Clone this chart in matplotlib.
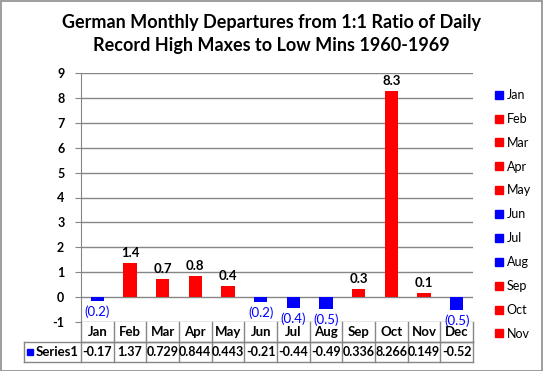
import matplotlib.pyplot as plt
from matplotlib.lines import Line2D
from matplotlib.patches import Rectangle

plt.rcParams['font.family'] = ['Lato', 'DejaVu Sans']

months = ['Jan', 'Feb', 'Mar', 'Apr', 'May', 'Jun', 'Jul', 'Aug', 'Sep', 'Oct', 'Nov', 'Dec']
values = [-0.17, 1.37, 0.729, 0.844, 0.443, -0.21, -0.44, -0.49, 0.336, 8.266, 0.149, -0.52]
yticks = list(range(-1, 10))
series_name = 'Series1'
title = 'German Monthly Departures from 1:1 Ratio of Daily\nRecord High Maxes to Low Mins 1960-1969'

BLUE = '#0000FF'
RED = '#FF0000'
GRID = '#868686'
colors = [BLUE if v < 0 else RED for v in values]

W, H = 543, 371
fig = plt.figure(figsize=(W / 100, H / 100), dpi=100)
fig.patch.set_facecolor('white')
fig.patches.append(Rectangle((0.5 / W, 0.5 / H), 1 - 1.5 / W, 1 - 1.5 / H, transform=fig.transFigure,
                             fill=False, edgecolor='#8c8c8c', linewidth=1.2))

# plot area in pixels
x0, x1, ytop, ybot = 81, 473, 73, 322
ax = fig.add_axes([x0 / W, (H - ybot) / H, (x1 - x0) / W, (ybot - ytop) / H])

x = list(range(len(months)))
ax.bar(x, values, width=0.4, color=colors, zorder=3)
ax.set_xlim(-0.5, len(months) - 0.5)
ax.set_ylim(-1, 9)
ax.set_yticks(yticks)
ax.set_yticklabels([str(t) for t in yticks], fontsize=9, fontweight='bold')
ax.set_xticks([])
ax.yaxis.grid(True, color=GRID, linewidth=1.0, zorder=0)
for s in ['top', 'right', 'bottom']:
    ax.spines[s].set_visible(False)
ax.spines['left'].set_color(GRID)
ax.tick_params(axis='y', length=4, color=GRID, pad=8)

# data labels
for i, v in enumerate(values):
    if v >= 0:
        ax.annotate(f'{v:.1f}', (i, v), xytext=(0, 3), textcoords='offset points',
                    ha='center', va='bottom', fontsize=9.5, fontweight='bold', color='black')
    else:
        ax.annotate(f'({abs(v):.1f})', (i, v), xytext=(0, -3), textcoords='offset points',
                    ha='center', va='top', fontsize=9.5, color=BLUE, annotation_clip=False)

# data table below the plot (y in data units: 1 unit ~ 24.9 px)
unit = (ybot - ytop) / 10
r1 = -1 - 20 / unit
r2 = -1 - 40 / unit
xleft = -0.5 - (x0 - 24) / ((x1 - x0) / len(months))
xr = len(months) - 0.5
lk = dict(color=GRID, linewidth=1.0, clip_on=False, zorder=1)
ax.plot([-0.5, -0.5], [-1, r2], **lk)
ax.plot([-0.5, xr], [r1, r1], **lk)
ax.plot([xleft, xr], [r1, r1], **lk)
ax.plot([xleft, xr], [r2, r2], **lk)
ax.plot([xleft, xleft], [r1, r2], **lk)
for i in range(len(months)):
    ax.plot([i + 0.5, i + 0.5], [-1, r2], **lk)
    ax.text(i, (-1 + r1) / 2, months[i], ha='center', va='center', fontsize=9.5,
            fontweight='bold', clip_on=False)
    ax.text(i, (r1 + r2) / 2, str(values[i]), ha='center', va='center', fontsize=9,
            fontweight='bold', clip_on=False)
ax.plot([xleft + 0.18], [(r1 + r2) / 2], marker='s', markersize=5, color=BLUE, clip_on=False)
ax.text(xleft + 0.35, (r1 + r2) / 2, series_name, ha='left', va='center', fontsize=9.5,
        fontweight='bold', clip_on=False)

fig.text(0.5, 1 - 34 / H, title, ha='center', va='center', fontsize=13,
         fontweight='bold', linespacing=1.45)

# legend (Dec is cut off in the original)
handles = [Line2D([], [], marker='s', linestyle='none', markersize=6, color=c) for c in colors[:11]]
fig.legend(handles, months[:11], loc='upper left', bbox_to_anchor=(488 / W, 1 - 84 / H),
           frameon=False, fontsize=9, labelspacing=0.95, handletextpad=0.1,
           handlelength=1.0, borderaxespad=0)

fig.savefig('out.png', dpi=100)
